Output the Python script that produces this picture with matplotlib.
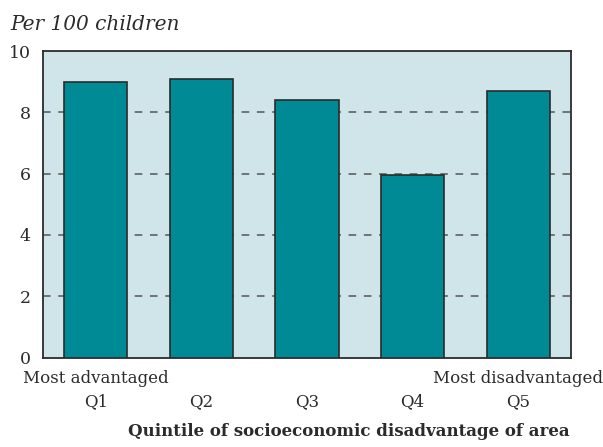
import matplotlib
matplotlib.use("Agg")
import matplotlib.pyplot as plt

quintiles = ["Q1", "Q2", "Q3", "Q4", "Q5"]
end_labels = {0: "Most advantaged", 4: "Most disadvantaged"}
rates = [9.0, 9.1, 8.4, 5.95, 8.7]
yticks = [0, 2, 4, 6, 8, 10]

bg = "#cfe5ea"
bar_color = "#008a96"
ink = "#2b2b2b"
font = "DejaVu Serif"

fig = plt.figure(figsize=(6.03, 4.47), dpi=100)
ax = fig.add_axes([43 / 603, 1 - 357.5 / 447, 528 / 603, 306.5 / 447])
ax.set_facecolor(bg)

x = list(range(len(quintiles)))
ax.bar(x, rates, width=0.6, color=bar_color, edgecolor=ink, linewidth=1.2, zorder=3)

ax.set_xlim(-0.5, 4.5)
ax.set_ylim(0, 10)
ax.set_yticks(yticks)
ax.set_yticklabels([str(v) for v in yticks], fontsize=12.5, family=font, color=ink)

labels = [(end_labels[i] + "\n" if i in end_labels else "\n") + q for i, q in enumerate(quintiles)]
ax.set_xticks(x)
ax.set_xticklabels(labels, fontsize=12, family=font, color=ink, linespacing=1.45)
ax.tick_params(axis="both", length=0)
ax.tick_params(axis="x", pad=9)
ax.tick_params(axis="y", pad=9)

for v in yticks[1:-1]:
    ax.axhline(v, color="#555555", linestyle=(0, (5, 5)), linewidth=1.1, zorder=1)

for s in ax.spines.values():
    s.set_color(ink)
    s.set_linewidth(1.3)

fig.text(10 / 603, 1 - 25 / 447, "Per 100 children", fontsize=14.5, family=font,
         style="italic", color=ink, va="center", ha="left")
fig.text(349 / 603, 1 - 432 / 447, "Quintile of socioeconomic disadvantage of area",
         fontsize=12, family=font, weight="bold", color=ink, va="center", ha="center")

fig.savefig("out.png", dpi=100, facecolor="white")
